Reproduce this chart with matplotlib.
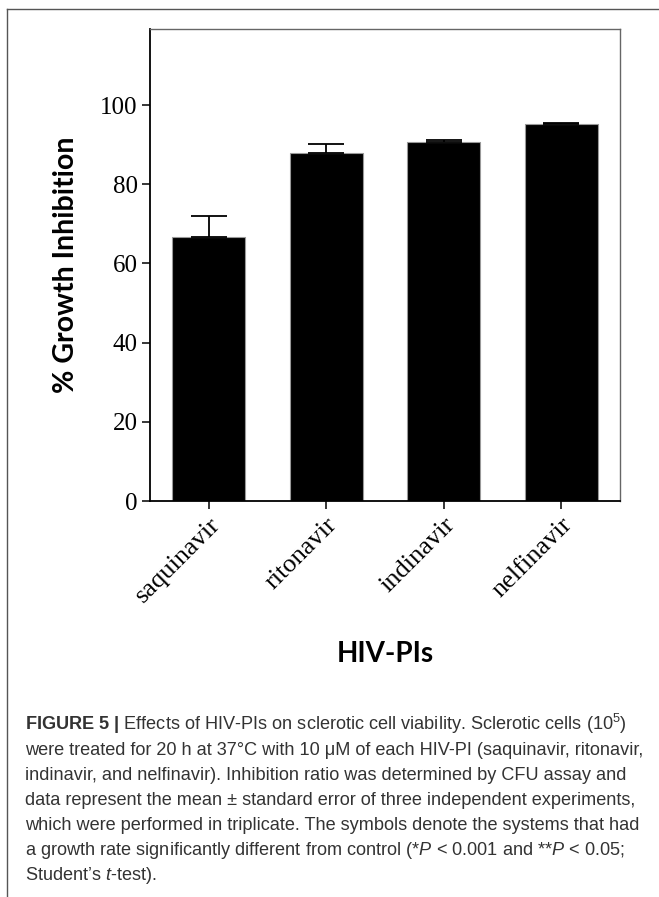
import numpy as np
import matplotlib
matplotlib.use('Agg')
import matplotlib.pyplot as plt
from matplotlib.lines import Line2D

plt.rcParams['mathtext.fontset'] = 'custom'
plt.rcParams['mathtext.rm'] = 'Liberation Sans'
plt.rcParams['mathtext.it'] = 'Liberation Sans:italic'
plt.rcParams['mathtext.bf'] = 'Liberation Sans:bold'

# data
drugs = ['saquinavir', 'ritonavir', 'indinavir', 'nelfinavir']
inhibition = [66.7, 87.8, 90.7, 95.2]
sem = [5.3, 2.4, 0.4, 0.3]
yticks = [0, 20, 40, 60, 80, 100]

caption = [
    r'$\mathbf{FIGURE\ 5\ |}$ Effects of HIV-PIs on sclerotic cell viability. Sclerotic cells (10$^5$)',
    'were treated for 20 h at 37\u00b0C with 10 \u03bcM of each HIV-PI (saquinavir, ritonavir,',
    'indinavir, and nelfinavir). Inhibition ratio was determined by CFU assay and',
    'data represent the mean \u00b1 standard error of three independent experiments,',
    'which were performed in triplicate. The symbols denote the systems that had',
    r'a growth rate significantly different from control (*$P$ < 0.001 and **$P$ < 0.05;',
    'Student\u2019s $t$-test).',
]

W, H = 659, 897
fig = plt.figure(figsize=(W / 100, H / 100), dpi=100)
ax = fig.add_axes([150 / W, 1 - 501 / H, 470 / W, 472 / H])

x = np.arange(len(drugs))
ax.bar(x, inhibition, width=0.62, color='black', edgecolor='#999999', linewidth=0.8,
       yerr=[np.zeros(len(sem)), sem], capsize=13,
       error_kw=dict(elinewidth=1.3, capthick=1.3, ecolor='black'))

ax.set_xlim(-0.5, 3.5)
ax.set_ylim(0, 119.2)
ax.set_yticks(yticks)
ax.set_yticklabels([str(v) for v in yticks], fontfamily='Liberation Serif', fontsize=18)
ax.set_xticks(x)
ax.set_xticklabels(drugs, fontfamily='Liberation Serif', fontsize=19,
                   rotation=45, ha='right', va='top', rotation_mode='anchor')
ax.tick_params(axis='both', direction='out', length=6, width=1.1, color='black')
ax.tick_params(axis='x', pad=3)
ax.tick_params(axis='y', pad=3)

for s in ['left', 'bottom']:
    ax.spines[s].set_linewidth(1.3)
    ax.spines[s].set_color('black')
for s in ['top', 'right']:
    ax.spines[s].set_linewidth(1.0)
    ax.spines[s].set_color('#666666')

ax.set_ylabel('% Growth Inhibition', fontfamily='Lato', fontweight='bold', fontsize=20.5)
ax.yaxis.set_label_coords(-84 / 470, 0.5)
ax.yaxis.label.set_va('center')
ax.set_xlabel('HIV-PIs', fontfamily='Lato', fontweight='bold', fontsize=20)
ax.xaxis.set_label_coords(0.5, -(654 - 501) / 472)
ax.xaxis.label.set_va('center')

# page frame lines
fig.add_artist(Line2D([7 / W, 7 / W], [0, 1 - 9 / H], color='#555555', lw=1.0))
fig.add_artist(Line2D([7 / W, 1], [1 - 9 / H, 1 - 9 / H], color='#555555', lw=1.0))

for i, line in enumerate(caption):
    fig.text(25 / W, 1 - (730 + 25 * i) / H, line, fontfamily='Liberation Sans',
             fontsize=13.1, color='#333333', ha='left', va='baseline')

fig.savefig('out.png', dpi=100)
